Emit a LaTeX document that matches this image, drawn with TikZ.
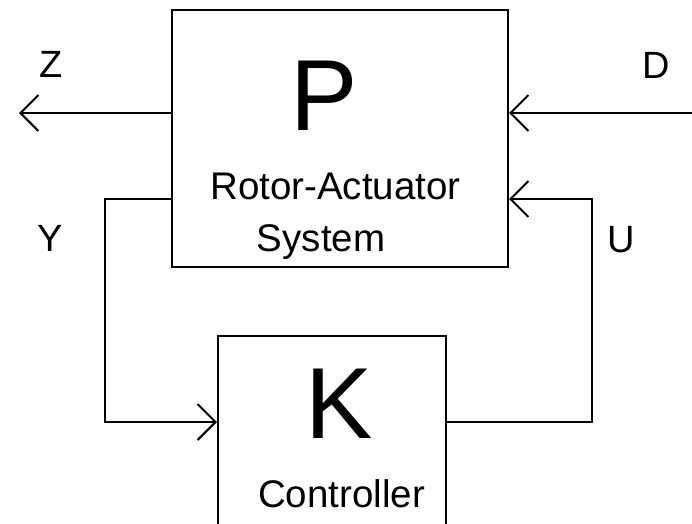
\documentclass[tikz,border=0pt]{standalone}
\usepackage{fontspec}
\setmainfont{Liberation Sans}
\usetikzlibrary{arrows.meta}
\begin{document}
\begin{tikzpicture}[x=1pt,y=-1pt,
  line width=2pt,
  blockbox/.style={draw, line width=2pt, inner sep=0pt},
  sig/.style={draw, line width=2pt, -{Straight Barb[length=18pt,width=36pt,line width=2pt]}},
  lbl/.style={font=\fontsize{38}{38}\selectfont, inner sep=0pt},
  big/.style={font=\fontsize{101}{101}\selectfont, anchor=base, inner sep=0pt},
  sub/.style={font=\fontsize{38.5}{38.5}\selectfont, anchor=base, inner sep=0pt}]
\useasboundingbox (0,0) rectangle (692,523);
% blocks
\node[blockbox, minimum width=336pt, minimum height=257pt] (P) at (340,138.5) {};
\node[blockbox, minimum width=228pt, minimum height=206pt] (K) at (332,439) {};
% texts
\node[big] (Pt) at (324,130) {P};
\node[sub] (Pr) at (335.5,199) {Rotor-Actuator};
\node[sub] (Ps) at (321,251) {System};
\node[big] (Kt) at (339,438) {K};
\node[sub] (Kc) at (341.5,507) {Controller};
% labels
\node[lbl] (Zl) at (51,64) {Z};
\node[lbl] (Dl) at (656,65) {D};
\node[lbl] (Yl) at (50,238) {Y};
\node[lbl] (Ul) at (621,240) {U};
% coordinates
\coordinate (zend) at (19,113);
\coordinate (dstart) at (692,113);
\coordinate (ycorner1) at (105,199);
\coordinate (ycorner2) at (105,422);
\coordinate (ucorner1) at (592,422);
\coordinate (ucorner2) at (592,199);
% connectors
\draw[sig] (P.west |- zend) -- (zend);
\draw[sig] (dstart) -- (P.east |- dstart);
\draw[sig] (P.west |- ycorner1) -- (ycorner1) -- (ycorner2) -- (K.west |- ycorner2);
\draw[sig] (K.east |- ucorner1) -- (ucorner1) -- (ucorner2) -- (P.east |- ucorner2);
\end{tikzpicture}
\end{document}
